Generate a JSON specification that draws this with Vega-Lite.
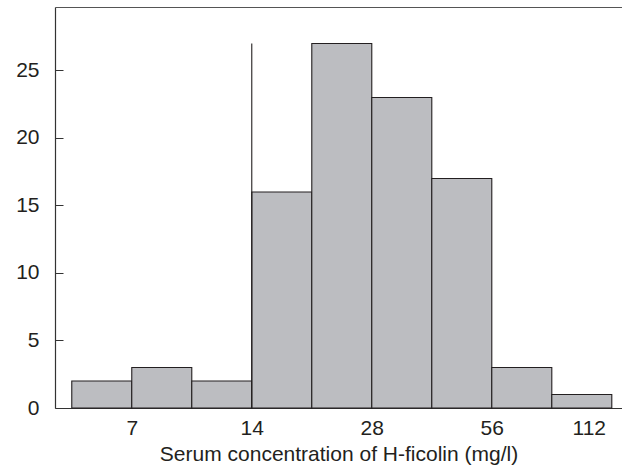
{
  "$schema": "https://vega.github.io/schema/vega-lite/v6.json",
  "width": 567,
  "height": 401,
  "autosize": {"type": "none"},
  "padding": {"left": 55, "top": 7, "right": 0, "bottom": 68},
  "background": "white",
  "config": {
    "view": {"stroke": null},
    "font": "Liberation Sans",
    "axis": {
      "labelFont": "Liberation Sans",
      "titleFont": "Liberation Sans",
      "labelColor": "#231f20",
      "titleColor": "#231f20",
      "titleFontWeight": "normal",
      "domainColor": "#333333",
      "tickColor": "#333333",
      "grid": false
    }
  },
  "datasets": {
    "bins": [
      {"lo": 4.95, "hi": 7, "count": 2},
      {"lo": 7, "hi": 9.9, "count": 3},
      {"lo": 9.9, "hi": 14, "count": 2},
      {"lo": 14, "hi": 19.8, "count": 16},
      {"lo": 19.8, "hi": 28, "count": 27},
      {"lo": 28, "hi": 39.6, "count": 23},
      {"lo": 39.6, "hi": 56, "count": 17},
      {"lo": 56, "hi": 79.2, "count": 3},
      {"lo": 79.2, "hi": 112, "count": 1}
    ],
    "marker": [
      {"x": 14, "y0": 0, "y1": 27}
    ]
  },
  "layer": [
    {
      "data": {"name": "bins"},
      "mark": {"type": "rect", "fill": "#bcbdc1", "stroke": "#231f20", "strokeWidth": 1.1},
      "encoding": {
        "x": {
          "field": "lo", "type": "quantitative",
          "scale": {"type": "log", "base": 2, "domain": [4.493, 118.8], "nice": false},
          "axis": {
            "values": [7, 14, 28, 56, 112],
            "format": "d",
            "ticks": false,
            "labelFontSize": 21,
            "labelPadding": 9,
            "labelOffset": {"expr": "datum.value === 112 ? -23 : 0"},
            "title": "Serum concentration of H-ficolin (mg/l)",
            "titleFontSize": 21,
            "titlePadding": 5,
            "domainWidth": 1.2
          }
        },
        "x2": {"field": "hi"},
        "y": {
          "field": "count", "type": "quantitative",
          "scale": {"domain": [0, 29.7], "nice": false, "zero": true},
          "axis": {
            "values": [0, 5, 10, 15, 20, 25],
            "tickSize": -8,
            "labelFontSize": 21,
            "labelPadding": 24,
            "title": null,
            "domainWidth": 1.2
          }
        },
        "y2": {"datum": 0}
      }
    },
    {
      "data": {"name": "marker"},
      "mark": {"type": "rule", "color": "#231f20", "strokeWidth": 1.1},
      "encoding": {
        "x": {
          "field": "x", "type": "quantitative",
          "axis": {"orient": "top", "labels": false, "ticks": false, "title": null, "domainWidth": 1.2, "domainColor": "#555555"}
        },
        "y": {"field": "y0", "type": "quantitative"},
        "y2": {"field": "y1"}
      }
    }
  ],
  "resolve": {"axis": {"x": "independent"}}
}
